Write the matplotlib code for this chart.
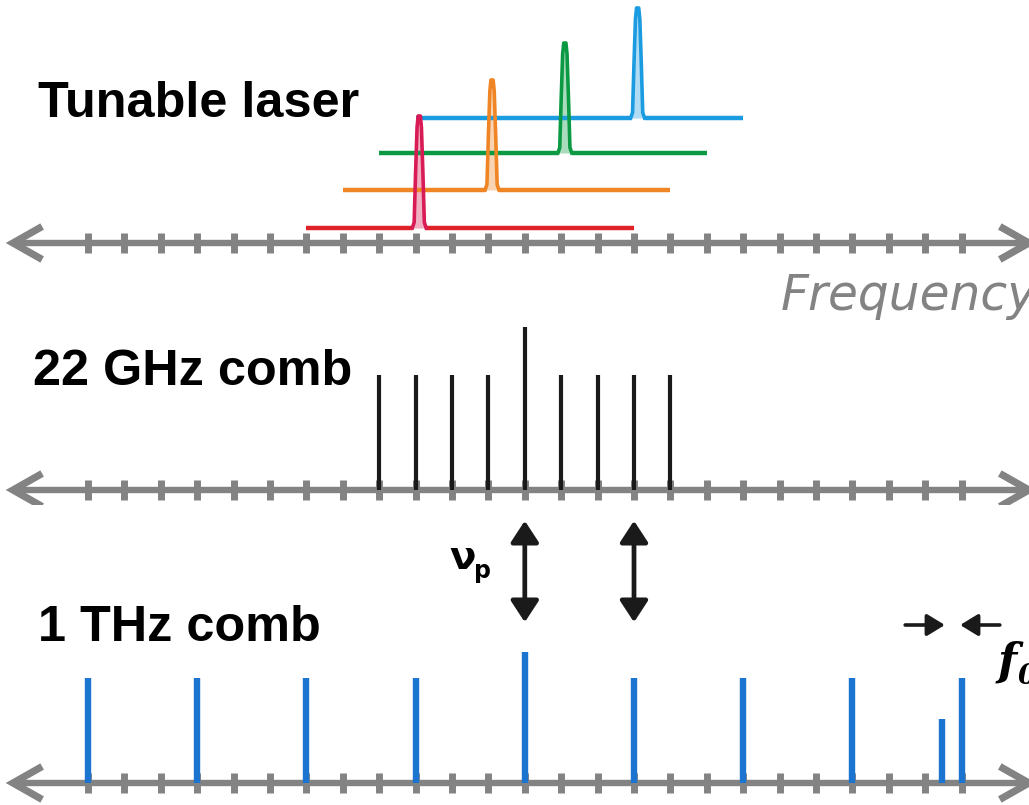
import matplotlib.pyplot as plt
from matplotlib.patches import FancyArrowPatch

# frequency grid: tick index along the axis
tick_idx = list(range(25))

# tunable laser sweeps (start, end, peak position, raised baseline)
laser_colors = ['#dd2228', '#f08526', '#0b9a43', '#1b9be0']
peak_colors = ['#d81b55', '#f08526', '#0b9a43', '#1b9be0']
laser_start = [6, 7, 8, 9]
laser_end = [15, 16, 17, 18]
laser_peak = [9.1, 11.1, 13.1, 15.1]
laser_offset = [15, 53, 90, 125]
laser_height = [112, 110, 110, 110]
# peak line shape (offset from centre, relative height)
profile_dx = [-0.19, -0.14, -0.10, -0.06, -0.03, 0.03, 0.06, 0.10, 0.14, 0.19]
profile_h = [0.0, 0.05, 0.5, 0.9, 1.0, 1.0, 0.9, 0.5, 0.05, 0.0]

# 22 GHz comb
ghz_idx = [8, 9, 10, 11, 12, 13, 14, 15, 16]
ghz_height = [115, 115, 115, 115, 163, 115, 115, 115, 115]

# 1 THz comb
thz_idx = [0, 3, 6, 9, 12, 15, 18, 21, 24]
thz_height = [105, 105, 105, 105, 131, 105, 105, 105, 105]
offset_idx = [23.45]
offset_height = [64]

pumped_idx = [12, 15]

GRAY = '#838383'
W, H = 1029, 805
PX = 36.4       # pixels per tick
X0 = 88         # pixel position of tick 0


def make_axes(top, bottom, base):
    ax = fig.add_axes([0, 1 - bottom / H, 1, (bottom - top) / H])
    ax.set_xlim(-X0 / PX, (W - X0) / PX)
    ax.set_ylim(-(bottom - base), base - top)
    ax.axis('off')
    return ax


def draw_axis(ax):
    ax.plot([-2.0, 25.8], [0, 0], color=GRAY, lw=4.6, solid_capstyle='butt', zorder=1)
    ax.vlines(tick_idx, -10, 10, color=GRAY, lw=5, zorder=1)
    ax.plot([-1.26, -2.06, -1.26], [16.5, 0, -16.5], color=GRAY, lw=5.2,
            solid_joinstyle='miter', solid_capstyle='butt', zorder=1)
    ax.plot([25.05, 25.85, 25.05], [16.5, 0, -16.5], color=GRAY, lw=5.2,
            solid_joinstyle='miter', solid_capstyle='butt', zorder=1)


fig = plt.figure(figsize=(W / 100, H / 100), dpi=100, facecolor='white')

ax1 = make_axes(0, 290, 243)
ax2 = make_axes(290, 505, 490)
ax3 = make_axes(505, 805, 783)

for ax in (ax1, ax2, ax3):
    draw_axis(ax)

# tunable laser traces
for c, pc, s, e, p, off, h in zip(laser_colors, peak_colors, laser_start, laser_end,
                                  laser_peak, laser_offset, laser_height):
    px_ = [p + d for d in profile_dx]
    py_ = [off + h * r for r in profile_h]
    ax1.plot([s, px_[0]], [off, off], color=c, lw=3.2, solid_capstyle='butt', zorder=3)
    ax1.plot([px_[-1], e], [off, off], color=c, lw=3.2, solid_capstyle='butt', zorder=3)
    ax1.fill_between(px_, off, py_, color=pc, alpha=0.35, lw=0, zorder=3)
    ax1.plot(px_, py_, color=pc, lw=2.6, zorder=4)

# 22 GHz comb lines
ax2.vlines(ghz_idx, 0, ghz_height, color='#1a1a1a', lw=3.0, zorder=3)

# 1 THz comb lines
ax3.vlines(thz_idx, 0, thz_height, color='#1a74d0', lw=4.6, zorder=3)
ax3.vlines(offset_idx, 0, offset_height, color='#1a74d0', lw=4.6, zorder=3)

# pump coupling arrows
for xi in pumped_idx:
    arr = FancyArrowPatch((xi, 158), (xi, 265), arrowstyle='<|-|>,head_length=1.3,head_width=0.85',
                          mutation_scale=10, color='#1a1a1a', lw=3.4, clip_on=False, zorder=5)
    ax3.add_patch(arr)

# offset frequency arrows
ax3.annotate('', xy=(23.54, 158), xytext=(22.45, 158),
             arrowprops=dict(arrowstyle='-|>,head_length=0.9,head_width=0.55', mutation_scale=12,
                             color='#1a1a1a', lw=2.6, shrinkA=0, shrinkB=0))
ax3.annotate('', xy=(23.96, 158), xytext=(25.05, 158),
             arrowprops=dict(arrowstyle='-|>,head_length=0.9,head_width=0.55', mutation_scale=12,
                             color='#1a1a1a', lw=2.6, shrinkA=0, shrinkB=0))


def ftext(x, y, s, **kw):
    fig.text(x / W, 1 - y / H, s, **kw)


ftext(38, 117, 'Tunable laser', fontsize=36.3, fontweight='bold',
      family='Liberation Sans', va='baseline', ha='left')
ftext(33, 385, '22 GHz comb', fontsize=36.3, fontweight='bold',
      family='Liberation Sans', va='baseline', ha='left')
ftext(38, 641, '1 THz comb', fontsize=36.3, fontweight='bold',
      family='Liberation Sans', va='baseline', ha='left')
ftext(781, 310, 'Frequency', fontsize=35, style='italic', color=GRAY,
      family='DejaVu Sans', va='baseline', ha='left')

ftext(449, 569, 'ν', fontsize=28, fontweight='bold', family='DejaVu Sans',
      va='baseline', ha='left')
ftext(474, 578, 'p', fontsize=17, fontweight='bold', family='DejaVu Sans',
      va='baseline', ha='left')
ftext(998, 675, 'f', fontsize=32, fontweight='bold', style='italic', family='DejaVu Serif',
      va='baseline', ha='left')
ftext(1018, 684, '0', fontsize=20, fontweight='bold', style='italic', family='DejaVu Serif',
      va='baseline', ha='left')

fig.savefig('out.png', dpi=100, facecolor='white')
